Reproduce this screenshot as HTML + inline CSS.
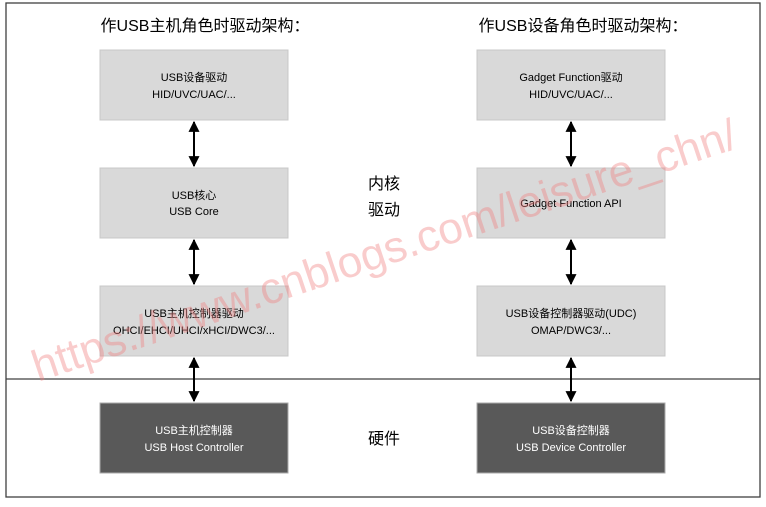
<!DOCTYPE html>
<html><head><meta charset="utf-8"><style>
body{margin:0;background:#fff;}
svg{display:block;font-family:"Liberation Sans","Noto Sans CJK SC",sans-serif;}
</style></head><body>
<svg width="766" height="507" viewBox="0 0 766 507" xmlns="http://www.w3.org/2000/svg">
<defs>
<marker id="a" viewBox="0 0 10 10" refX="9" refY="5" markerWidth="14" markerHeight="11" markerUnits="userSpaceOnUse" orient="auto-start-reverse"><path d="M0,0L10,5L0,10z" fill="#000"/></marker>
</defs>
<rect x="6" y="3" width="754" height="494" fill="#fff" stroke="#404040" stroke-width="1.3"/>
<line x1="6" y1="379" x2="760" y2="379" stroke="#404040" stroke-width="1.3"/>
<g font-size="16" fill="#000" text-anchor="middle">
<text x="205" y="31">作USB主机角色时驱动架构：</text>
<text x="583" y="31">作USB设备角色时驱动架构：</text>
<text x="384" y="189">内核</text>
<text x="384" y="215">驱动</text>
<text x="384" y="444">硬件</text>
</g>
<g fill="#d9d9d9" stroke="#c8c8c8">
<rect x="100" y="50" width="188" height="70"/>
<rect x="100" y="168" width="188" height="70"/>
<rect x="100" y="286" width="188" height="70"/>
<rect x="477" y="50" width="188" height="70"/>
<rect x="477" y="168" width="188" height="70"/>
<rect x="477" y="286" width="188" height="70"/>
</g>
<g fill="#595959" stroke="#aaa">
<rect x="100" y="403" width="188" height="70"/>
<rect x="477" y="403" width="188" height="70"/>
</g>
<g font-size="11" fill="#000" text-anchor="middle">
<text x="194" y="81">USB设备驱动</text><text x="194" y="98">HID/UVC/UAC/...</text>
<text x="194" y="199">USB核心</text><text x="194" y="215">USB Core</text>
<text x="194" y="317">USB主机控制器驱动</text><text x="194" y="334">OHCI/EHCI/UHCI/xHCI/DWC3/...</text>
<text x="571" y="81">Gadget Function驱动</text><text x="571" y="98">HID/UVC/UAC/...</text>
<text x="571" y="207">Gadget Function API</text>
<text x="571" y="317">USB设备控制器驱动(UDC)</text><text x="571" y="334">OMAP/DWC3/...</text>
</g>
<g font-size="11" fill="#fff" text-anchor="middle">
<text x="194" y="434">USB主机控制器</text><text x="194" y="451">USB Host Controller</text>
<text x="571" y="434">USB设备控制器</text><text x="571" y="451">USB Device Controller</text>
</g>
<g stroke="#000" stroke-width="2" marker-start="url(#a)" marker-end="url(#a)">
<line x1="194" y1="122" x2="194" y2="166"/>
<line x1="194" y1="240" x2="194" y2="284"/>
<line x1="194" y1="358" x2="194" y2="401"/>
<line x1="571" y1="122" x2="571" y2="166"/>
<line x1="571" y1="240" x2="571" y2="284"/>
<line x1="571" y1="358" x2="571" y2="401"/>
</g>
<text x="38" y="382" font-size="44" fill="#f08080" fill-opacity="0.4" textLength="740" lengthAdjust="spacingAndGlyphs" transform="rotate(-18.5 38 382)">https://www.cnblogs.com/leisure_chn/</text>
</svg>
</body></html>
